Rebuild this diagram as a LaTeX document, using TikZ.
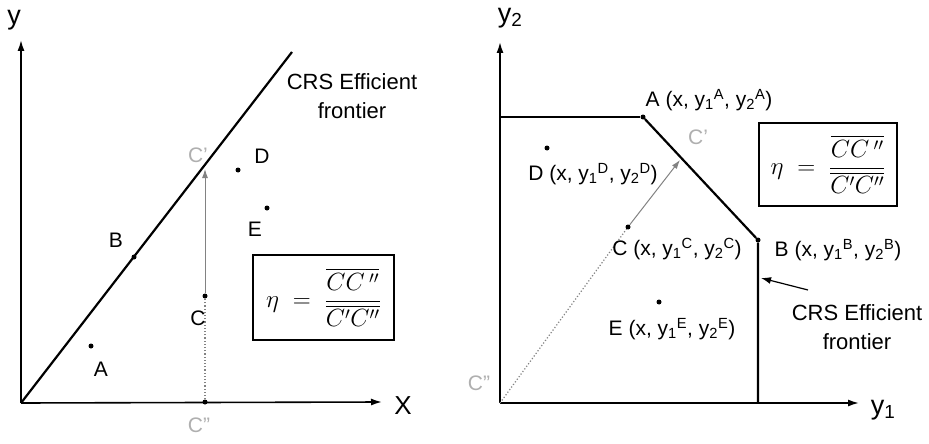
\documentclass[tikz,border=0pt]{standalone}
\usepackage{fontspec}
\setmainfont{Liberation Sans}
\usepackage{amsmath}
\usetikzlibrary{arrows.meta}
\definecolor{fadegray}{RGB}{175,175,175}
\definecolor{guidegray}{RGB}{130,130,130}

\newcommand{\yy}[2]{y\textsubscript{#1}\textsuperscript{#2}}
\newcommand{\ratio}{$\eta\;=\;\dfrac{\overline{CC\,''}}{\overline{C'C''}}$}

\tikzset{
  axis/.style={line width=1.6pt, -{Latex[length=11pt,width=7pt]}},
  frontier/.style={line width=2.2pt},
  dotpt/.style={circle, fill=black, inner sep=0pt, minimum size=5pt},
  lbl/.style={inner sep=1pt},
  ghost/.style={inner sep=1pt, text=fadegray},
  guide/.style={guidegray, line width=1pt, -{Latex[length=9pt,width=6pt]}},
  trace/.style={guidegray, line width=1.2pt, dotted},
  ratiobox/.style={draw, line width=1.2pt, font=\fontsize{25}{30}\selectfont}
}

\begin{document}
\begin{tikzpicture}[x=1pt, y=-1pt, font=\fontsize{21}{25}\selectfont]
\useasboundingbox (0,0) rectangle (929,444);

% left panel
\coordinate (lO) at (21,403);
\coordinate (lytop) at (21,40);
\coordinate (lxend) at (382,402);
\coordinate (lfend) at (292,52);
\coordinate (lCp) at (205,169);
\node[dotpt] (lA) at (91,346) {};
\node[dotpt] (lB) at (134,257) {};
\node[dotpt] (lC) at (205,296) {};
\node[dotpt] (lCpp) at (205,402) {};
\node[dotpt] (lD) at (238,170) {};
\node[dotpt] (lE) at (267,208) {};

\draw[axis] (lO) -- (lytop);
\draw[axis] (lO) -- (lxend);
\draw[frontier] (lO) -- (lfend);
\draw[trace] (lCpp) -- (lC);
\draw[guide] (lC) -- (lCp);

\node[lbl, font=\fontsize{27}{30}\selectfont] (ly) at (14,20) {y};
\node[lbl, font=\fontsize{26}{30}\selectfont] (lx) at (403,406) {X};
\node[lbl, align=center, font=\fontsize{22}{29}\selectfont] (lcrs) at (352,96) {CRS Efficient\\frontier};
\node[lbl] (lAl) at (101,369) {A};
\node[lbl] (lBl) at (116,240) {B};
\node[lbl] (lCl) at (198,318) {C};
\node[lbl] (lDl) at (262,156) {D};
\node[lbl] (lEl) at (255,229) {E};
\node[ghost] (lCpl) at (198,155) {C'};
\node[ghost] (lCppl) at (199,425) {C''};
\node[ratiobox, minimum width=141pt, minimum height=85pt] (lbox) at (323.5,297.5) {\ratio};

% right panel
\coordinate (rO) at (500,403);
\coordinate (rytop) at (500,42);
\coordinate (rxend) at (859,403);
\coordinate (rcorner) at (500,117);
\coordinate (rBfoot) at (758,403);
\coordinate (rCp) at (680,160);
\coordinate (rfrom) at (808,290);
\coordinate (rtip) at (761,278);
\node[dotpt] (rA) at (643,117) {};
\node[dotpt] (rB) at (758,240) {};
\node[dotpt] (rC) at (628,227) {};
\node[dotpt] (rD) at (547,148) {};
\node[dotpt] (rE) at (659,302) {};

\draw[axis] (rO) -- (rytop);
\draw[axis] (rO) -- (rxend);
\draw[line width=1.6pt] (rcorner) -- (rA);
\draw[frontier] (rA) -- (rB) -- (rBfoot);
\draw[trace] (rO) -- (rC);
\draw[guide] (rC) -- (rCp);

\node[lbl, font=\fontsize{27}{30}\selectfont] (ry) at (510,18) {y\textsubscript{2}};
\node[lbl, font=\fontsize{27}{30}\selectfont] (rx) at (883,410) {y\textsubscript{1}};
\node[lbl] (rAl) at (709,100) {A (x, \yy{1}{A}, \yy{2}{A})};
\node[lbl] (rDl) at (593,174) {D (x, \yy{1}{D}, \yy{2}{D})};
\node[lbl] (rCl) at (677,249) {C (x, \yy{1}{C}, \yy{2}{C})};
\node[lbl] (rBl) at (838,250) {B (x, \yy{1}{B}, \yy{2}{B})};
\node[lbl] (rEl) at (672,329) {E (x, \yy{1}{E}, \yy{2}{E})};
\node[ghost] (rCpl) at (698,137) {C'};
\node[ghost] (rCppl) at (479,383) {C''};
\node[ratiobox, minimum width=138pt, minimum height=83pt] (rbox) at (828,164.5) {\ratio};
\node[lbl, align=center, font=\fontsize{22}{29}\selectfont] (rcrs) at (857,327) {CRS Efficient\\frontier};
\draw[line width=1.2pt, -{Latex[length=10pt,width=7pt]}] (rfrom) -- (rtip);

\end{tikzpicture}
\end{document}
